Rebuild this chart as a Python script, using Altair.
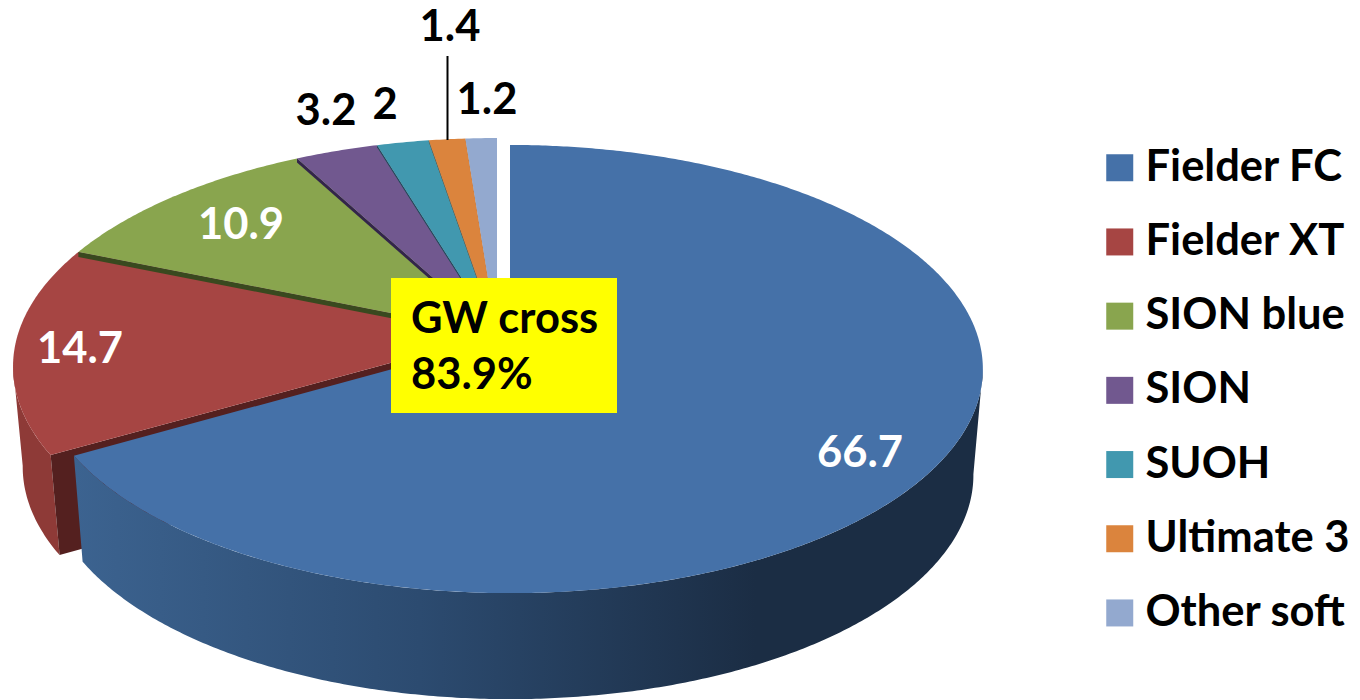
import math
import altair as alt
import pandas as pd

# ---- data ----
CATEGORIES = ["Fielder FC", "Fielder XT", "SION blue", "SION", "SUOH", "Ultimate 3", "Other soft"]
VALUES = [66.7, 14.7, 10.9, 3.2, 2, 1.4, 1.2]
COLORS = ["#4571A8", "#A64543", "#89A54E", "#71588F", "#4198AF", "#DB843D", "#93A9CF"]
EDGE_COLORS = [None, None, "#39491F", "#33254A", "#1E4A58", "#6B3F1C", "#5A6A8A"]
EDGE_DEPTH = [0, 0, 5, 4, 2, 1.5, 1]
VALUE_LABEL_COLORS = ["white", "white", "white", "black", "black", "black", "black"]
VALUE_LABEL_X = [860, 80, 241, 326, 385, 450, 487]
VALUE_LABEL_Y = [454, 350, 226, 112, 106, 28, 101]
BOX_LINES = ["GW cross", "83.9%"]

# ---- page geometry (the page adds an 8 px margin) ----
OX, OY = 8, 8
K = 0.143
TAPER = 0.98
PIE_MAIN = dict(cx=510, cy=337, r=468, sr=219.5, wall=106)
PIE_REST = dict(cx=497, cy=334, r=479, sr=224, wall=100)
FONT = "Lato"
FONT_SIZE = 43.5
TOTAL = sum(VALUES)


def rim(p, deg):
    a = math.radians(deg)
    d = 1 + K * math.cos(a)
    return (p["cx"] + p["r"] * math.sin(a) / d, p["cy"] - p["sr"] * math.cos(a) / d)


def low(p, pt):
    return (p["cx"] + (pt[0] - p["cx"]) * TAPER, pt[1] + p["wall"])


def arc(p, a0, a1):
    n = max(2, int(abs(a1 - a0) * 2))
    return [rim(p, a0 + (a1 - a0) * i / n) for i in range(n + 1)]


def feature(points, name=""):
    ring = [[x - OX, y - OY] for x, y in points]
    ring.append(ring[0])
    return {"type": "Feature", "properties": {"name": name},
            "geometry": {"type": "Polygon", "coordinates": [ring]}}


def shape(features, **kw):
    return alt.Chart(alt.Data(values=features)).mark_geoshape(strokeWidth=0, **kw).project(
        type="identity", scale=1, translate=[0, 0])


bounds = [0]
for v in VALUES:
    bounds.append(bounds[-1] + v / TOTAL * 360)

tops, strips = [], []
for i, name in enumerate(CATEGORIES):
    p = PIE_MAIN if i == 0 else PIE_REST
    c = (p["cx"], p["cy"])
    tops.append(feature([c] + arc(p, bounds[i], bounds[i + 1]), name))
    if EDGE_COLORS[i]:
        o = rim(p, bounds[i])
        d = EDGE_DEPTH[i]
        strips.append(feature([c, o, (o[0], o[1] + d), (c[0], c[1] + d)], EDGE_COLORS[i]))

# side walls
red_rim = arc(PIE_REST, bounds[1], 262)
red_wall = shape([feature(red_rim + [low(PIE_REST, q) for q in reversed(red_rim)])], fill="#8E3A37")
red_o = rim(PIE_REST, bounds[1])
red_c = (PIE_REST["cx"], PIE_REST["cy"])
red_cut = shape([feature([red_c, red_o, low(PIE_REST, red_o), (red_c[0], red_c[1] + PIE_REST["wall"])])], fill="#54201F")

blue_rim = arc(PIE_MAIN, 98, bounds[1])
blue_wall = shape(
    [feature(blue_rim + [low(PIE_MAIN, q) for q in reversed(blue_rim)])],
    fill=alt.Gradient(
        gradient="linear", x1=1, x2=0, y1=0, y2=0,
        stops=[alt.GradientStop(color="#1B2D44", offset=0),
               alt.GradientStop(color="#1B2D44", offset=0.25),
               alt.GradientStop(color="#2C4B70", offset=0.62),
               alt.GradientStop(color="#3C6390", offset=1)],
    ),
)

top_layer = shape(tops).encode(
    color=alt.Color(
        "properties.name:N",
        scale=alt.Scale(domain=CATEGORIES, range=COLORS),
        legend=alt.Legend(
            title=None, orient="none", legendX=1098 - OX, legendY=146 - OY,
            symbolType="square", symbolSize=729, symbolStrokeWidth=0, symbolOpacity=1,
            labelFont=FONT, labelFontWeight="bold", labelFontSize=FONT_SIZE, labelColor="black",
            labelOffset=4, rowPadding=29.2, labelLimit=300, padding=0,
        ),
    )
)
strip_layer = shape(strips).encode(
    color=alt.Color("properties.name:N", scale=None, legend=None)
)

labels = pd.DataFrame({
    "text": [str(v) for v in VALUES],
    "px": [x - OX for x in VALUE_LABEL_X],
    "py": [y - OY for y in VALUE_LABEL_Y],
    "col": VALUE_LABEL_COLORS,
})
label_layer = alt.Chart(labels).mark_text(
    font=FONT, fontWeight="bold", fontSize=FONT_SIZE, baseline="middle", align="center"
).encode(
    x=alt.X("px:Q", scale=None, axis=None),
    y=alt.Y("py:Q", scale=None, axis=None),
    text="text:N",
    color=alt.Color("col:N", scale=None, legend=None),
)

leader = alt.Chart(pd.DataFrame({"a": [0]})).mark_rule(color="black", strokeWidth=2).encode(
    x=alt.value(447.5 - OX), y=alt.value(56 - OY), y2=alt.value(140 - OY)
)

box = alt.Chart(pd.DataFrame({"a": [0]})).mark_rect(color="#FFFF00").encode(
    x=alt.value(391 - OX), x2=alt.value(617 - OX), y=alt.value(278 - OY), y2=alt.value(413 - OY)
)

box_text = alt.Chart(pd.DataFrame({
    "text": BOX_LINES, "px": [411 - OX] * 2, "py": [320 - OY, 376 - OY],
})).mark_text(
    font=FONT, fontWeight="bold", fontSize=FONT_SIZE, baseline="middle", align="left", color="black"
).encode(
    x=alt.X("px:Q", scale=None, axis=None),
    y=alt.Y("py:Q", scale=None, axis=None),
    text="text:N",
)

chart = alt.layer(
    red_wall, red_cut, blue_wall, top_layer, strip_layer,
    label_layer, leader, box, box_text,
).resolve_scale(color="independent").properties(
    width=1344, height=692, padding=0, autosize=alt.AutoSizeParams(type="none")
).configure_view(stroke=None)

chart.save("out.html", embed_options={"renderer": "svg", "actions": False})
